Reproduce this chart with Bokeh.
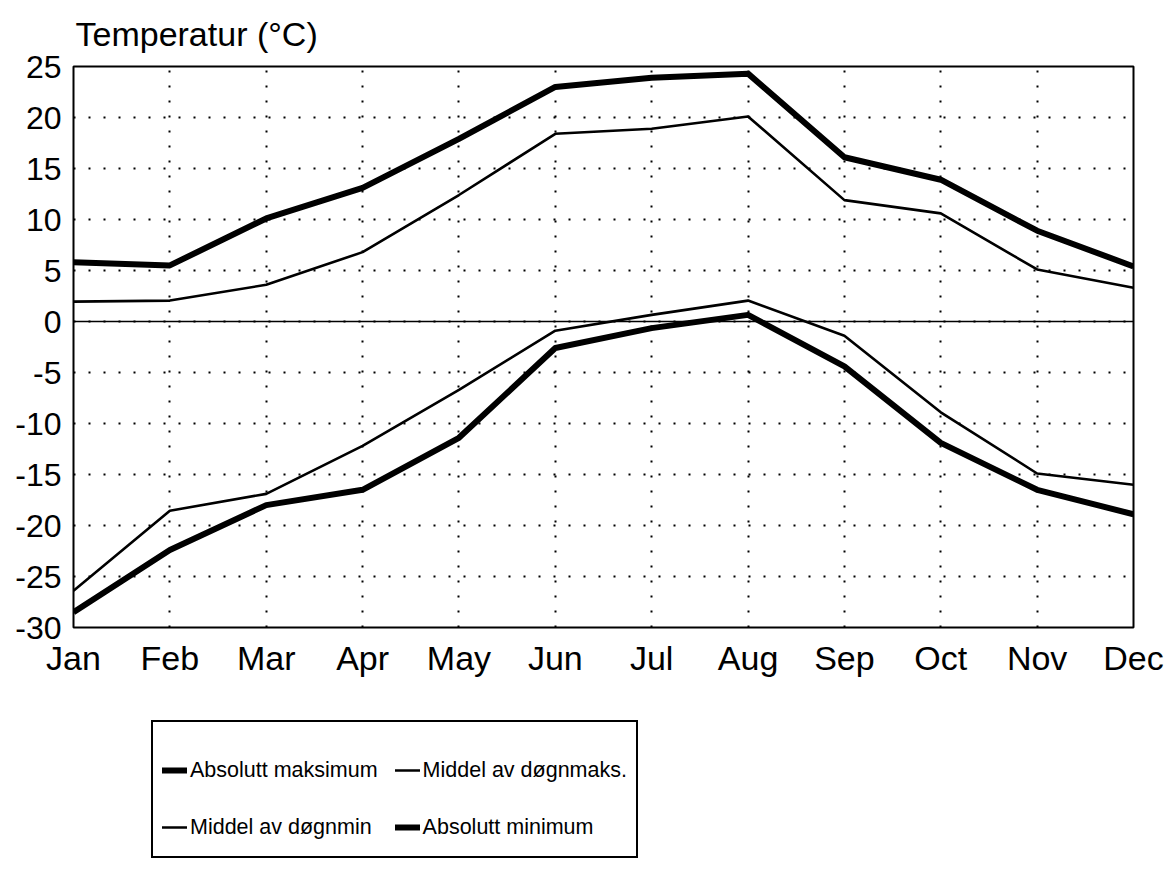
from bokeh.plotting import figure
from bokeh.layouts import column
from bokeh.models import Legend, LegendItem, FixedTicker, Span, Range1d
from bokeh.embed import file_html
from bokeh.resources import INLINE

months = ["Jan", "Feb", "Mar", "Apr", "May", "Jun", "Jul", "Aug", "Sep", "Oct", "Nov", "Dec"]
abs_max = [5.8, 5.5, 10.1, 13.1, 17.9, 23.0, 23.9, 24.3, 16.1, 13.9, 8.9, 5.4]
mean_max = [1.95, 2.05, 3.6, 6.8, 12.4, 18.4, 18.9, 20.1, 11.9, 10.6, 5.1, 3.3]
mean_min = [-26.4, -18.55, -16.9, -12.2, -6.7, -0.9, 0.65, 2.05, -1.4, -8.9, -14.9, -16.0]
abs_min = [-28.5, -22.4, -18.0, -16.5, -11.4, -2.6, -0.65, 0.65, -4.4, -11.9, -16.5, -18.9]
series_labels = ["Absolutt maksimum", "Middel av døgnmaks.", "Middel av døgnmin", "Absolutt minimum"]
y_ticks = list(range(-30, 30, 5))
y_tick_labels = [str(t) for t in y_ticks]
x_pos = list(range(len(months)))

FONT = "Liberation Sans"
THICK, THIN = 6, 2.6

p = figure(width=1165, height=700,
           x_range=Range1d(0, len(months) - 1), y_range=Range1d(-30, 25),
           output_backend="svg", toolbar_location=None,
           min_border_left=73, min_border_right=32,
           min_border_top=66, min_border_bottom=73)

p.title.text = "Temperatur (°C)"
p.title.text_font = FONT
p.title.text_font_size = "34px"
p.title.text_font_style = "normal"
p.title.text_color = "black"
p.title.align = "left"
p.title.vertical_align = "top"
p.title.offset = 2
p.title.standoff = 24

p.outline_line_color = "black"
p.outline_line_width = 2
p.outline_line_alpha = 1

for ax in (p.xaxis[0], p.yaxis[0]):
    ax.axis_line_color = None
    ax.major_tick_line_color = None
    ax.minor_tick_line_color = None
    ax.major_label_text_font = FONT
    ax.major_label_text_color = "black"

p.xaxis[0].ticker = FixedTicker(ticks=x_pos)
p.xaxis[0].major_label_overrides = {i: m for i, m in enumerate(months)}
p.xaxis[0].major_label_text_font_size = "34px"
p.xaxis[0].major_label_standoff = 5
p.yaxis[0].ticker = FixedTicker(ticks=y_ticks)
p.yaxis[0].major_label_overrides = {t: s for t, s in zip(y_ticks, y_tick_labels)}
p.yaxis[0].major_label_text_font_size = "32px"
p.yaxis[0].major_label_standoff = 6

p.xgrid.ticker = FixedTicker(ticks=x_pos)
p.ygrid.ticker = FixedTicker(ticks=y_ticks)
for g in (p.xgrid[0], p.ygrid[0]):
    g.grid_line_color = "black"
    g.grid_line_width = 2
    g.grid_line_dash = "2 13"
    g.grid_line_alpha = 1

p.add_layout(Span(location=0, dimension="width", line_color="black", line_width=1.5))

series = [abs_max, mean_max, mean_min, abs_min]
widths = [THICK, THIN, THIN, THICK]
for ys, w in zip(series, widths):
    p.line(x_pos, ys, line_color="black", line_width=w, line_join="round")

# legend panel below the chart (its own copies of the series lie outside its view)
lg = figure(width=1165, height=166, x_range=Range1d(100, 101), y_range=Range1d(100, 101),
            output_backend="svg", toolbar_location=None,
            x_axis_type=None, y_axis_type=None,
            min_border_left=0, min_border_right=0, min_border_top=0, min_border_bottom=0)
lg.outline_line_color = None
lg.xgrid.visible = False
lg.ygrid.visible = False

items = []
for lab, ys, w in zip(series_labels, series, widths):
    r = lg.line(x_pos, ys, line_color="black", line_width=w, line_cap="round")
    items.append(LegendItem(label=lab, renderers=[r]))

legend = Legend(
    items=items,
    location=(78, 8), orientation="horizontal", ncols=2,
    border_line_color="black", border_line_width=2, border_line_alpha=1,
    background_fill_color="white", background_fill_alpha=1,
    padding=9, spacing=17, margin=0,
    glyph_width=25, glyph_height=40, label_height=40, label_standoff=3,
    label_text_font=FONT, label_text_font_size="21.5px",
    label_text_color="black",
    title=" ", title_text_font_size="12px", title_standoff=5,
)
lg.add_layout(legend, "center")

layout = column(p, lg, spacing=0)
open("out.html", "w").write(file_html(layout, INLINE))
